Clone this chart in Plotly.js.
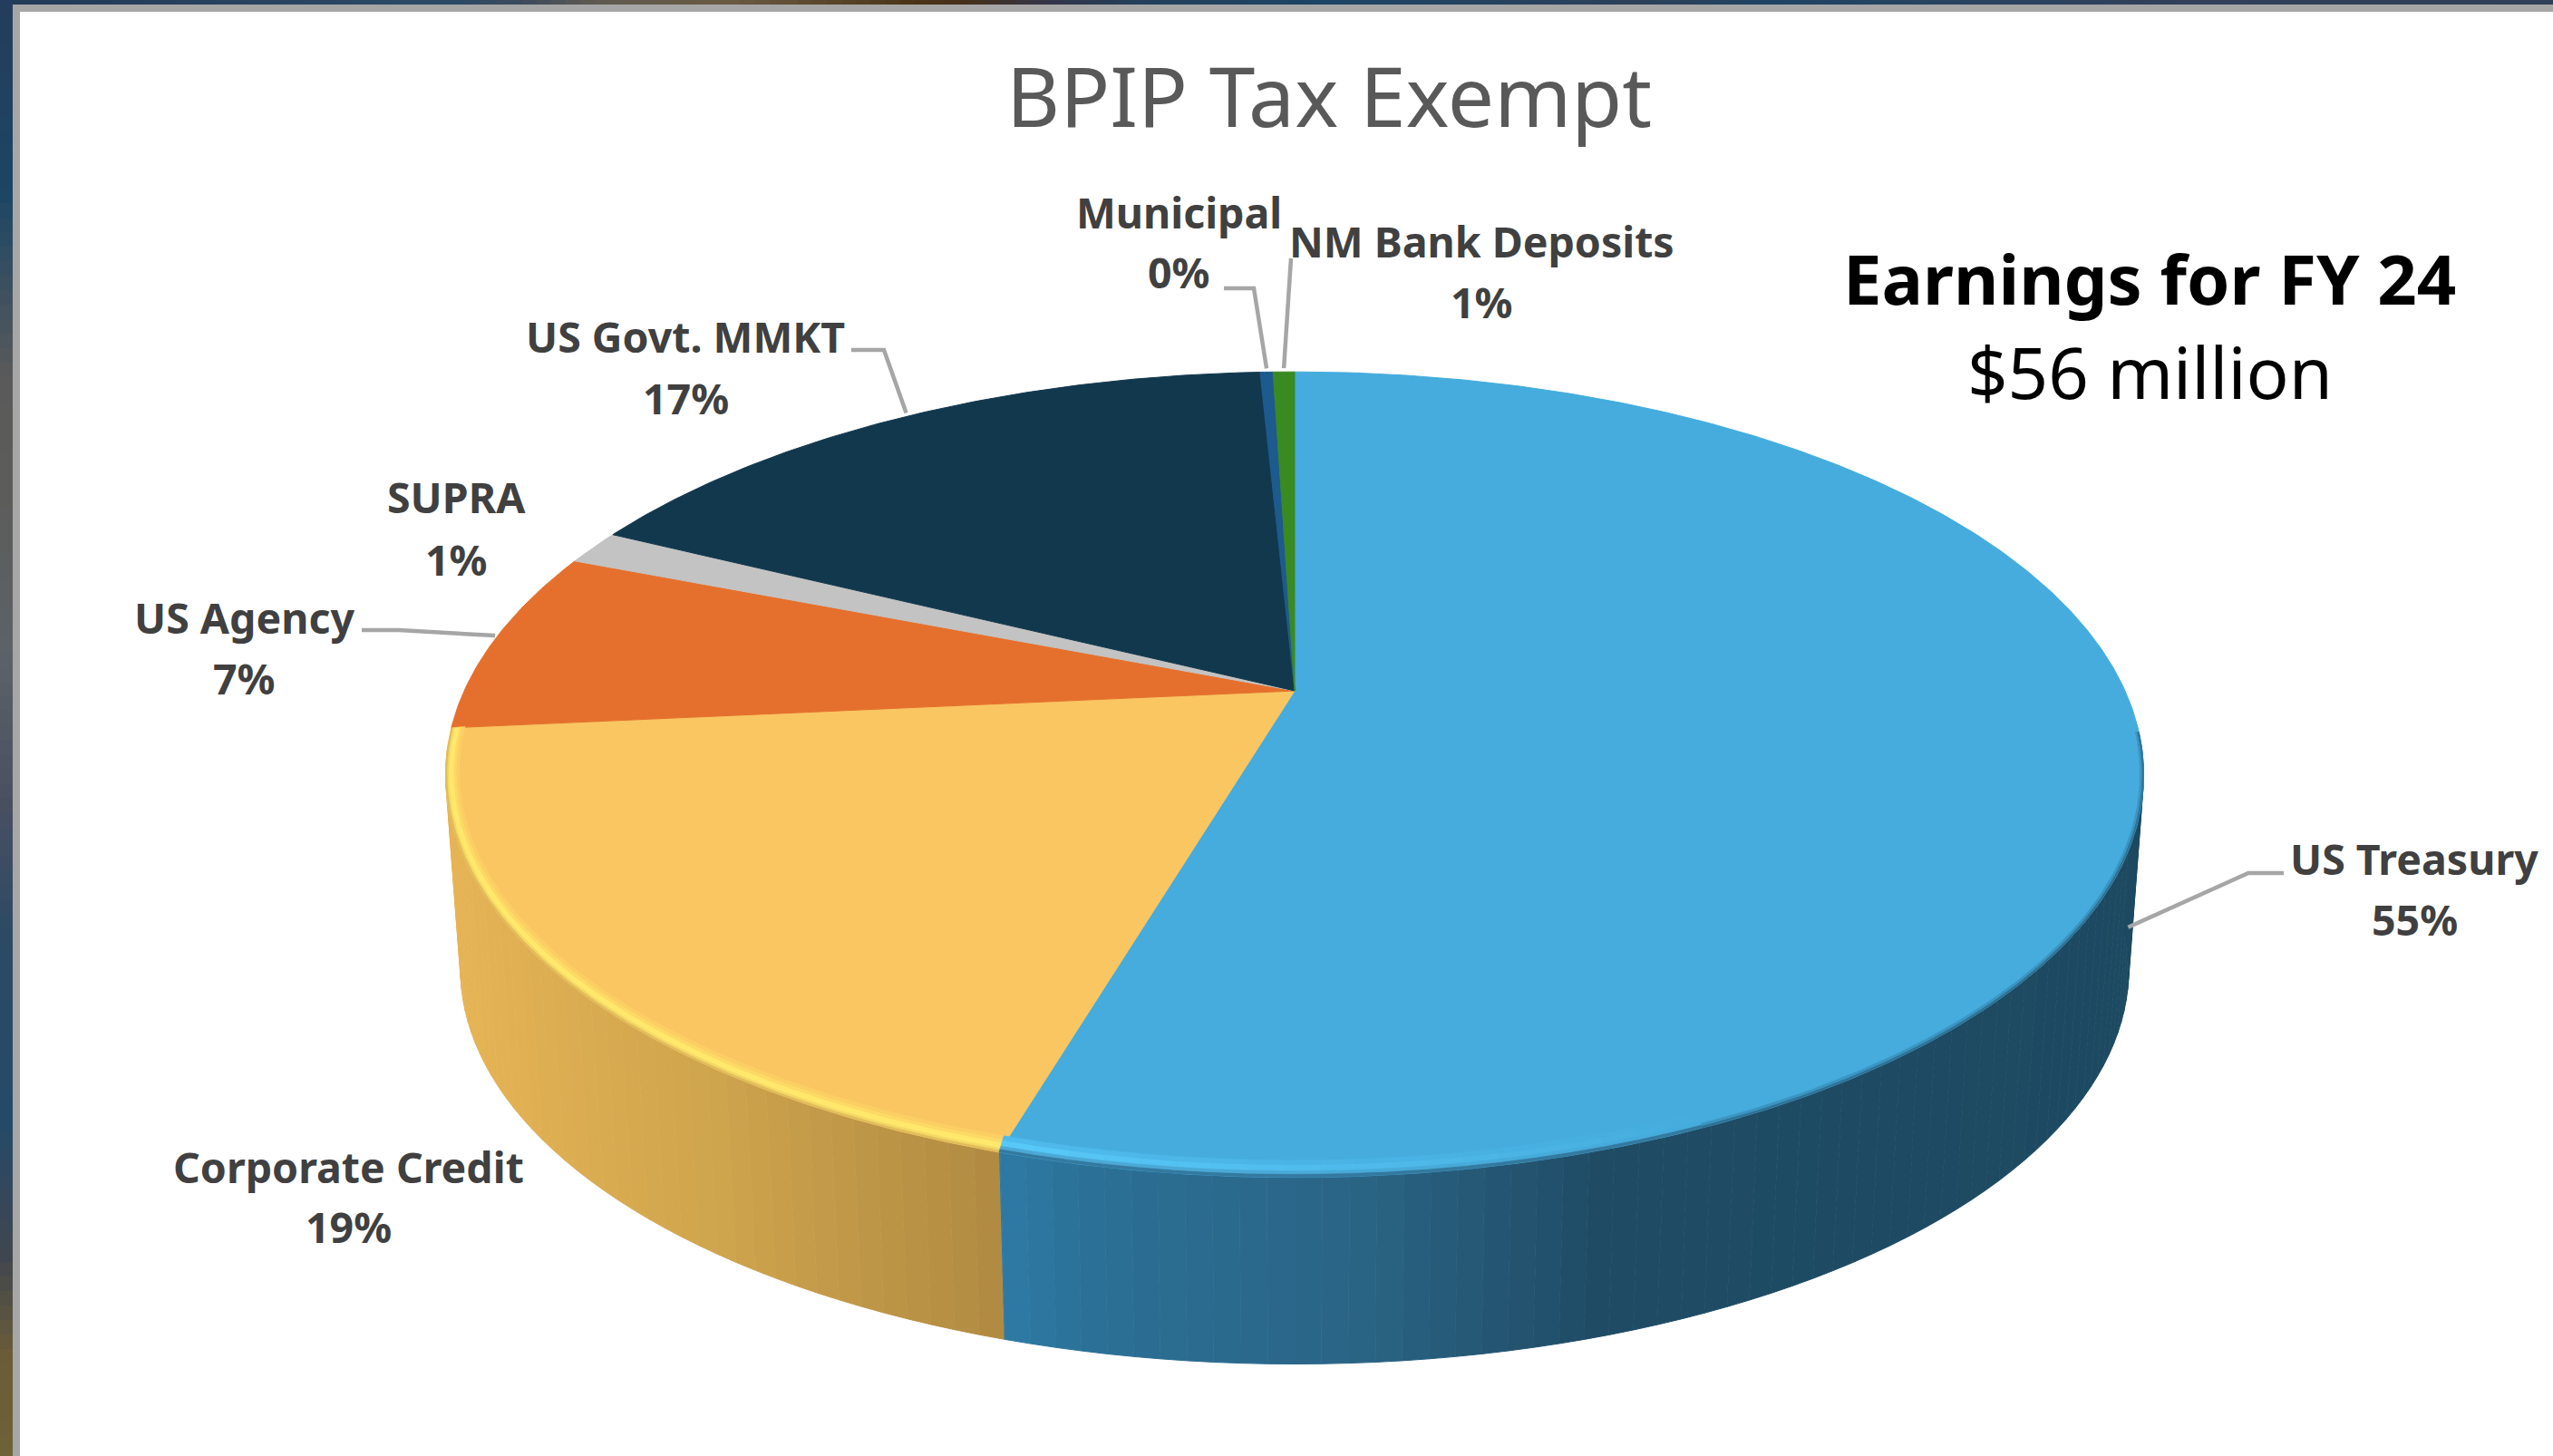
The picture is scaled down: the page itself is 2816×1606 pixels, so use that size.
<!DOCTYPE html>
<html>
<head>
<meta charset="utf-8">
<script src="https://cdn.plot.ly/plotly-3.0.1.min.js"></script>
<style>html,body{margin:0;padding:0;background:#fff;overflow:hidden}#chart{width:2816px;height:1606px}</style>
</head>
<body>
<div id="chart"></div>
<script>
// Portfolio shares, clockwise from twelve o'clock.
const categories = ["US Treasury", "Corporate Credit", "US Agency", "SUPRA", "US Govt. MMKT", "Municipal", "NM Bank Deposits"];
const shares = [54.6, 18.9, 7.4, 1.4, 16.9, 0.3, 0.5];
const topColors = ["#45acdd", "#f9c661", "#e5702e", "#c3c3c3", "#12384d", "#1d5a8e", "#3a8a22"];

// Wall shading per slice, as [canvas x, colour] stops.
const wallStops = [
  [[1104, "#2d7ba6"], [1200, "#2b7096"], [1500, "#2a6485"], [1770, "#1f4b65"], [2400, "#1d4a61"]],
  [[490, "#e6b455"], [800, "#cda34c"], [1104, "#b08a42"]],
  [[480, "#b85a24"], [560, "#b85a24"]],
  [[480, "#8c8c8c"], [560, "#8c8c8c"]],
  [[480, "#0e2b3b"], [560, "#0e2b3b"]],
  [[480, "#143f63"], [560, "#143f63"]],
  [[480, "#2a6318"], [560, "#2a6318"]]
];

// Label positions, as centre x and the y of the name and percent lines.
const labelX = [2663, 384, 269, 503, 756, 1300, 1634];
const labelNameY = [947, 1287, 681, 548, 371, 234, 266];
const labelPctY = [1014, 1353, 748, 617, 439, 300, 333];

// Leader lines: the outer bend points; the inner end follows the slice.
const leaderBends = {
  0: [[2480, 963], [2519, 963]],
  2: [[440, 695], [399, 695]],
  4: [[975, 386], [939, 386]],
  5: [[1383, 318], [1350, 318]],
  6: [[1424, 285]]
};

const chartTitle = "BPIP Tax Exempt";
const noteHead = "Earnings for FY 24";
const noteValue = "$56 million";

// Colours of the slide frame along the top and down the left edge.
const frameTop = [[0, "#223a57"], [490, "#2c4a66"], [570, "#3c4a5c"], [650, "#5f5a50"], [800, "#6a5a42"], [1000, "#4a3418"], [1060, "#45301c"], [1150, "#33344a"], [1250, "#24405a"], [1450, "#1c4466"], [1800, "#2c4058"], [1950, "#1f4464"], [2400, "#32405a"], [2816, "#2f4058"]];
const frameLeft = [[0, "#243d5c"], [205, "#1c4664"], [410, "#5a5a5a"], [510, "#5c5c58"], [715, "#5c6268"], [870, "#4a5060"], [1025, "#2c4a64"], [1230, "#254a68"], [1380, "#40464e"], [1485, "#6a5c38"], [1606, "#6e6238"]];

// Perspective model of the upper and lower discs of the pie.
const tilt = 0.208;
const upper = {cx: 1428, cy: 762, a: 916, b: 425};
const lower = {cx: 1428, cy: 978, a: 900, b: 417};

function project(disc, deg, inset) {
  const t = deg * Math.PI / 180, o = inset || 0;
  const x = Math.sin(t), y = Math.cos(t), w = 1 + tilt * y;
  return [disc.cx + (disc.a - o) * x / w, disc.cy - (disc.b - o) * y / w];
}

function hexToRgb(h) {
  return [1, 3, 5].map(i => parseInt(h.slice(i, i + 2), 16));
}

function mix(h1, h2, f) {
  const a = hexToRgb(h1), b = hexToRgb(h2);
  return "#" + a.map((v, k) => Math.round(v + (b[k] - v) * f).toString(16).padStart(2, "0")).join("");
}

function shade(stops, pos) {
  if (pos <= stops[0][0]) return stops[0][1];
  for (let i = 1; i < stops.length; i++) {
    if (pos <= stops[i][0]) {
      return mix(stops[i - 1][1], stops[i][1], (pos - stops[i - 1][0]) / (stops[i][0] - stops[i - 1][0]));
    }
  }
  return stops[stops.length - 1][1];
}

const total = shares.reduce((s, v) => s + v, 0);
const starts = [];
shares.reduce((acc, v, i) => { starts[i] = acc; return acc + v; }, 0);
const toDeg = v => v / total * 360;

const traces = [];
const plain = {type: "scatter", mode: "lines", hoverinfo: "skip", showlegend: false};

function polygon(points, color, edge) {
  traces.push(Object.assign({}, plain, {
    x: points.map(p => p[0]), y: points.map(p => p[1]),
    fill: "toself", fillcolor: color,
    line: {color: color, width: edge === undefined ? 1 : edge}
  }));
}

function path(points, color, width) {
  traces.push(Object.assign({}, plain, {
    x: points.map(p => p[0]), y: points.map(p => p[1]),
    line: {color: color, width: width, simplify: false}
  }));
}

// Outer wall: narrow strips between the rims, only where the wall faces the viewer.
const stepDeg = 1.5, wallFrom = 96, wallTo = 262;
shares.forEach((v, i) => {
  const from = Math.max(toDeg(starts[i]), wallFrom), to = Math.min(toDeg(starts[i] + v), wallTo);
  for (let d = from; d < to; d += stepDeg) {
    const e = Math.min(d + stepDeg, to);
    const quad = [project(upper, d), project(upper, e), project(lower, e), project(lower, d)];
    polygon(quad, shade(wallStops[i], (quad[0][0] + quad[1][0]) / 2));
  }
});

// Upper surface: one wedge per slice.
shares.forEach((v, i) => {
  const from = toDeg(starts[i]), to = toDeg(starts[i] + v);
  const pts = [[upper.cx, upper.cy]];
  const n = Math.max(2, Math.ceil((to - from) / 0.5));
  for (let k = 0; k <= n; k++) pts.push(project(upper, from + (to - from) * k / n));
  pts.push([upper.cx, upper.cy]);
  polygon(pts, topColors[i]);
});

// A band of the top surface between two insets from the rim.
function rimBand(from, to, inner, outer, color) {
  const a = [], b = [];
  for (let d = from; d <= to + 1e-6; d += (to - from) / Math.max(1, Math.ceil((to - from) / 0.75))) {
    a.push(project(upper, d, outer));
    b.unshift(project(upper, d, inner));
  }
  polygon(a.concat(b), color, 0.5);
}

// Lit bevel just inside the front rim of the two large slices.
const corpFrom = toDeg(starts[1]), corpTo = toDeg(starts[2]);
const yellowBevel = [[0, 2, "#e0bc5a"], [2, 4, "#f4d866"], [4, 9, "#ffe86c"], [9, 12, "#fdd966"], [12, 15, "#fbcf63"]];
yellowBevel.forEach(s => rimBand(corpFrom, corpTo, s[1], s[0], s[2]));

const blueEdge = "#34799f";
const blueBevel = [[0, 3, blueEdge], [3, 6, "#4da8d4"], [6, 11, "#58c8f8"], [11, 15, "#4fbaec"]];
const fadeSteps = 20, fadeDeg = 2;
blueBevel.forEach(s => {
  for (let k = 0; k < fadeSteps; k++) {
    const e = corpFrom - k * fadeDeg;
    rimBand(e - fadeDeg, e, s[1], s[0], mix(s[2], s[2] === blueEdge ? s[2] : topColors[0], k / fadeSteps));
  }
});
// Soft seam between the surface and the wall on the rest of the treasury slice.
const seamFrom = wallFrom, seamTo = corpFrom - fadeSteps * fadeDeg;
rimBand(seamFrom, seamTo, 2, 0, "#2f7094");
rimBand(seamFrom, seamTo, 4, 2, "#3c94c0");

// Leader lines from each slice's rim to its label.
Object.keys(leaderBends).forEach(key => {
  const i = Number(key);
  const mid = toDeg(starts[i] + shares[i] / 2);
  let anchor = project(upper, mid);
  if (i === 0) {
    const low = project(lower, mid);
    anchor = [anchor[0] + (low[0] - anchor[0]) * 0.92, anchor[1] + (low[1] - anchor[1]) * 0.92];
  } else {
    anchor = [anchor[0], anchor[1] - 4];
  }
  path([anchor].concat(leaderBends[key]), "#a6a6a6", 4.5);
});

const labelFont = {family: "Noto Sans", size: 46.5, color: "#404040", weight: 700};
function text(x, y, str, font) {
  return {x: x, y: y, xref: "x", yref: "y", text: str, showarrow: false, xanchor: "center", yanchor: "middle", font: font};
}
const annotations = [
  text(1466, 105, chartTitle, {family: "Noto Sans", size: 91, color: "#595959"}),
  text(2371, 306, noteHead, {family: "Noto Sans", size: 76, color: "#000000", weight: 700}),
  text(2371, 410, noteValue, {family: "Noto Sans", size: 78, color: "#000000"})
];
categories.forEach((name, i) => {
  annotations.push(text(labelX[i], labelNameY[i], name, labelFont));
  annotations.push(text(labelX[i], labelPctY[i], Math.round(shares[i]) + "%", labelFont));
});

// Slide frame strips behind the white panel.
const shapes = [];
function band(x0, x1, y0, y1, color) {
  shapes.push({type: "rect", xref: "x", yref: "y", x0: x0, x1: x1, y0: y0, y1: y1, fillcolor: color, line: {width: 0}, layer: "below"});
}
for (let x = 0; x < 2816; x += 16) band(x, x + 16, 0, 5, shade(frameTop, x));
for (let y = 0; y < 1606; y += 16) band(0, 14, y, y + 16, shade(frameLeft, y));
band(14, 2816, 5, 13, "#a6a6a6");
band(14, 22, 13, 1606, "#a6a6a6");

const hidden = {visible: false, fixedrange: true};
Plotly.newPlot("chart", traces, {
  width: 2816, height: 1606,
  margin: {l: 0, r: 0, t: 0, b: 0},
  paper_bgcolor: "#ffffff", plot_bgcolor: "#ffffff",
  showlegend: false,
  xaxis: Object.assign({range: [0, 2816]}, hidden),
  yaxis: Object.assign({range: [1606, 0]}, hidden),
  annotations: annotations,
  shapes: shapes
}, {staticPlot: true, displayModeBar: false});
</script>
</body>
</html>
